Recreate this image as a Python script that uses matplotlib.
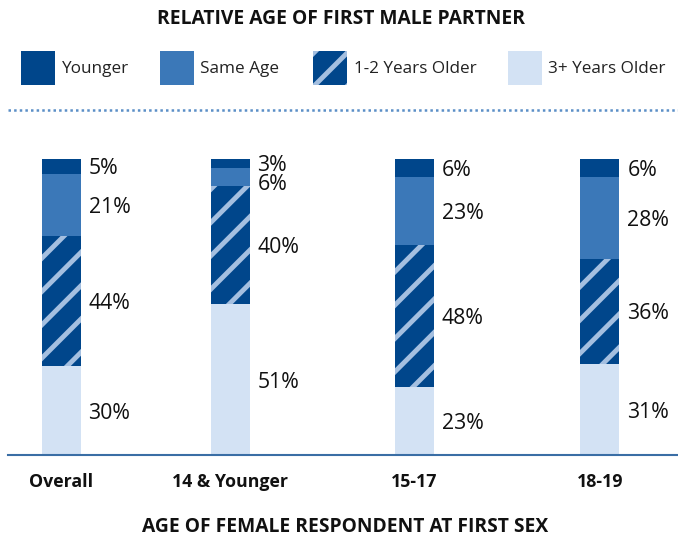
import matplotlib
matplotlib.use("Agg")
import matplotlib.pyplot as plt
from matplotlib.patches import Rectangle
from matplotlib.lines import Line2D

plt.rcParams['font.family'] = ['Open Sans', 'DejaVu Sans']
plt.rcParams['hatch.linewidth'] = 3.5

categories = ["Overall", "14 & Younger", "15-17", "18-19"]
series_names = ["3+ Years Older", "1-2 Years Older", "Same Age", "Younger"]
older3 = [30, 51, 23, 31]
older12 = [44, 40, 48, 36]
same_age = [21, 6, 23, 28]
younger = [5, 3, 6, 6]

positions = [0.0, 1.0, 2.089, 3.189]

c_younger = "#00468b"
c_same = "#3b78b8"
c_hatch_bg = "#00468b"
c_hatch_fg = "#a4bfe0"
c_older3 = "#d3e2f4"
axis_col = "#3a6ea5"
txt = "#111111"

W, H = 678, 537
fig = plt.figure(figsize=(W / 100, H / 100), dpi=100)
renderer = fig.canvas.get_renderer()


def fit(texts, target_px):
    """scale font size of a group so that texts[0] has target width in px"""
    w = texts[0].get_window_extent(renderer).width
    s = texts[0].get_fontsize() * target_px / w
    for t in texts:
        t.set_fontsize(s)


ax = fig.add_axes([8 / W, (H - 455) / H, (678 - 8) / W, (455 - 159) / H])
ax.set_xlim(-53 / 169, (678 - 61) / 169)
ax.set_ylim(0, 100)

bw = 39 / 169
series = [older3, older12, same_age, younger]
colors = [c_older3, c_hatch_bg, c_same, c_younger]
totals = [sum(s[i] for s in series) for i in range(len(categories))]
bottoms = [0.0] * len(categories)
label_y = [[] for _ in categories]
label_txt = [[] for _ in categories]
for vals, col, name in zip(series, colors, series_names):
    heights = [v / t * 100 for v, t in zip(vals, totals)]
    if name == "1-2 Years Older":
        ax.bar(positions, heights, bw, bottom=bottoms, color=col, edgecolor=c_hatch_fg,
               hatch='/', linewidth=0, clip_on=False)
    else:
        ax.bar(positions, heights, bw, bottom=bottoms, color=col, linewidth=0, clip_on=False)
    for i, (b, h, v) in enumerate(zip(bottoms, heights, vals)):
        label_y[i].append(b + h / 2)
        label_txt[i].append(f"{v}%")
    bottoms = [b + h for b, h in zip(bottoms, heights)]

# push overlapping labels apart (top-down)
min_gap = 6.4
value_texts = []
for i, p in enumerate(positions):
    ys = label_y[i][:]
    for k in range(len(ys) - 2, -1, -1):
        if ys[k + 1] - ys[k] < min_gap:
            ys[k] = ys[k + 1] - min_gap
    for y, s in zip(ys, label_txt[i]):
        value_texts.append(ax.text(p + bw / 2 + 8 / 169, y, s, ha='left', va='center_baseline',
                                   fontsize=13, color=txt, clip_on=False))
# "44%" should be ~43 px wide
fit([value_texts[1]] + value_texts, 42)

for s in ["top", "right", "left"]:
    ax.spines[s].set_visible(False)
ax.spines["bottom"].set_color(axis_col)
ax.spines["bottom"].set_linewidth(1.5)
ax.set_yticks([])
ax.set_xticks(positions)
ax.set_xticklabels(categories, fontsize=12.5, fontweight='bold', color=txt)
ax.tick_params(axis='x', length=0, pad=13)
ticks = ax.get_xticklabels()
fit([ticks[1]] + ticks, 116)

t1 = fig.text(341 / W, 1 - 19 / H, "RELATIVE AGE OF FIRST MALE PARTNER", ha='center', va='center',
              fontsize=12, fontweight='bold', color=txt)
fit([t1], 367)
t2 = fig.text(345 / W, 1 - 527 / H, "AGE OF FEMALE RESPONDENT AT FIRST SEX", ha='center', va='center',
              fontsize=12, fontweight='bold', color=txt)
fit([t2], 404)

# legend
leg_items = [("Younger", c_younger, None, 21, 62), ("Same Age", c_same, None, 160, 200),
             ("1-2 Years Older", c_hatch_bg, '/', 313, 354), ("3+ Years Older", c_older3, None, 508, 548)]
leg_texts = []
for label, col, hatch, x0, xt in leg_items:
    r = Rectangle((x0 / W, 1 - 85 / H), 34 / W, 34 / H, transform=fig.transFigure,
                  facecolor=col, edgecolor=c_hatch_fg if hatch else col, hatch=hatch,
                  linewidth=0)
    fig.add_artist(r)
    leg_texts.append(fig.text(xt / W, 1 - 69 / H, label, ha='left', va='center', fontsize=12,
                              color="#222222"))
fit([leg_texts[3]] + leg_texts, 117)

fig.add_artist(Line2D([8 / W, 1], [1 - 109.5 / H, 1 - 109.5 / H], transform=fig.transFigure,
                      color="#5b8fc7", linewidth=1.8, linestyle=(0, (1, 1.25))))

fig.savefig("out.png", dpi=100)
